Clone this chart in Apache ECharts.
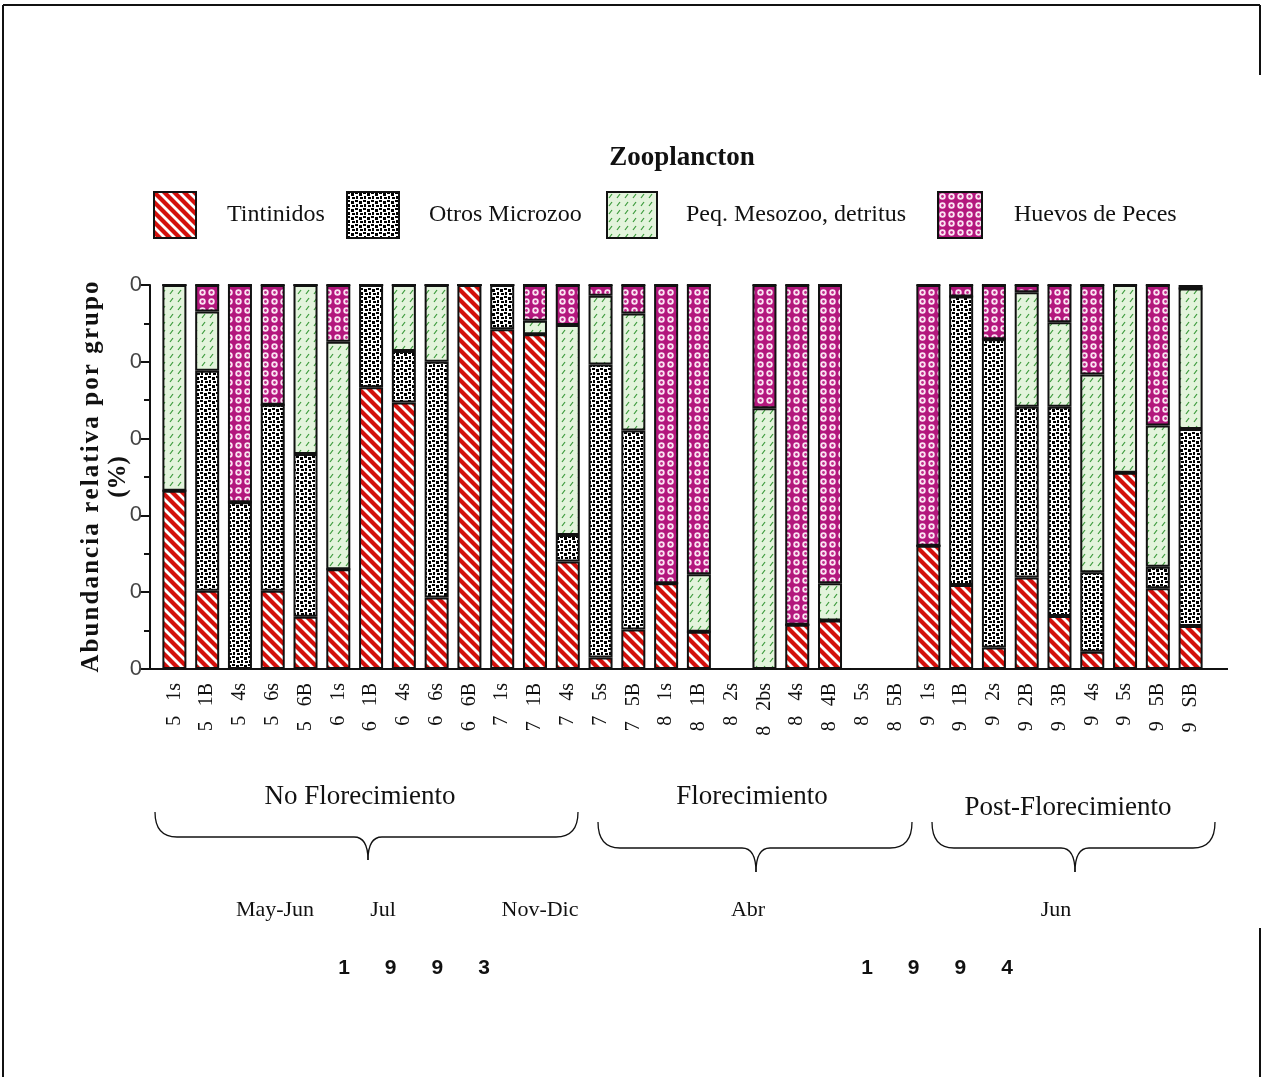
<!DOCTYPE html>
<html>
<head>
<meta charset="utf-8">
<script src="https://cdn.jsdelivr.net/npm/echarts@6/dist/echarts.min.js"></script>
<style>
  html, body { margin: 0; padding: 0; background: #fff; }
  #chart { width: 1269px; height: 1077px; }
</style>
</head>
<body>
<div id="chart"></div>
<script>
  // estaciones / muestras
  var categorias = ['5 1s', '5 1B', '5 4s', '5 6s', '5 6B', '6 1s', '6 1B', '6 4s', '6 6s', '6 6B',
    '7 1s', '7 1B', '7 4s', '7 5s', '7 5B', '8 1s', '8 1B', '8 2s', '8 2bs', '8 4s', '8 4B', '8 5s', '8 5B',
    '9 1s', '9 1B', '9 2s', '9 2B', '9 3B', '9 4s', '9 5s', '9 5B', '9 SB'];

  // % por grupo
  var tintinidos = [46.4, 20.4, 0, 20.4, 13.6, 26.0, 73.4, 69.4, 18.6, 100, 88.5, 87.2, 28.0, 3.0, 10.3, 22.3,
    9.7, 0, 0, 11.5, 12.6, 0, 0, 32.1, 21.9, 5.6, 23.8, 13.8, 4.5, 51.1, 21.0, 11.2];
  var otrosMicrozoo = [0, 57.3, 43.4, 48.4, 42.4, 0, 26.6, 13.4, 61.4, 0, 11.5, 0, 6.9, 76.3, 51.8, 0,
    0, 0, 0, 0, 0, 0, 0, 0, 75.1, 80.3, 44.5, 54.5, 20.7, 0, 5.6, 51.3];
  var mesozoo = [53.6, 15.4, 0, 0, 44.0, 59.2, 0, 17.2, 20.0, 0, 0, 3.5, 54.7, 17.9, 30.5, 0,
    15.0, 0, 67.9, 0, 9.7, 0, 0, 0, 0, 0, 29.8, 22.0, 51.5, 48.9, 36.8, 36.6];
  var huevos = [0, 6.9, 56.6, 31.2, 0, 14.8, 0, 0, 0, 0, 0, 9.3, 10.4, 2.8, 7.4, 77.7,
    75.3, 0, 32.1, 88.5, 77.7, 0, 0, 67.9, 3.0, 14.1, 1.9, 9.7, 23.3, 0, 36.6, 0];
  // franja negra sobre 9 SB
  var otrosTope = [0, 0, 0, 0, 0, 0, 0, 0, 0, 0, 0, 0, 0, 0, 0, 0,
    0, 0, 0, 0, 0, 0, 0, 0, 0, 0, 0, 0, 0, 0, 0, 0.9];

  var yTicks = [0, 20, 40, 60, 80, 100];

  var serif = 'Liberation Serif';

  // patrones de relleno
  function tile(size, draw) {
    var c = document.createElement('canvas');
    c.width = size; c.height = size;
    draw(c.getContext('2d'), size);
    return { image: c, repeat: 'repeat' };
  }
  var rayasRojas = tile(10, function (ctx, s) {
    ctx.fillStyle = '#fff';
    ctx.fillRect(0, 0, s, s);
    ctx.strokeStyle = '#d3100c';
    ctx.lineWidth = 4.2;
    [-s, 0, s].forEach(function (k) {
      ctx.beginPath();
      ctx.moveTo(-2, -2 + k);
      ctx.lineTo(s + 2, s + 2 + k);
      ctx.stroke();
    });
  });
  var puntosNegros = tile(8, function (ctx, s) {
    ctx.fillStyle = '#fff';
    ctx.fillRect(0, 0, s, s);
    ctx.fillStyle = '#000';
    ctx.fillRect(0, 0, 3, 2);
    ctx.fillRect(4, 1, 3, 3);
    ctx.fillRect(1, 4, 2, 3);
    ctx.fillRect(5, 5, 3, 2);
  });
  var verdes = tile(8, function (ctx, s) {
    ctx.fillStyle = '#e3f4dc';
    ctx.fillRect(0, 0, s, s);
    ctx.strokeStyle = '#3c9a3c';
    ctx.lineWidth = 1.2;
    ctx.beginPath();
    ctx.moveTo(2, 6);
    ctx.lineTo(5, 2);
    ctx.stroke();
  });
  var circulosRosa = tile(9, function (ctx, s) {
    ctx.fillStyle = '#b3177d';
    ctx.fillRect(0, 0, s, s);
    ctx.fillStyle = '#fbe3f2';
    ctx.beginPath();
    ctx.arc(4.5, 4.5, 3.2, 0, Math.PI * 2);
    ctx.fill();
    ctx.fillStyle = '#c02a8a';
    ctx.beginPath();
    ctx.arc(4.5, 4.5, 1.4, 0, Math.PI * 2);
    ctx.fill();
  });

  function serie(name, data, fill) {
    return {
      name: name,
      type: 'bar',
      stack: 'total',
      barWidth: 24,
      data: data,
      itemStyle: { color: fill, borderColor: '#111', borderWidth: 2 },
      emphasis: { disabled: true }
    };
  }

  function leyenda(name, left, w, pad) {
    return {
      data: [name],
      left: left,
      top: 186,
      itemWidth: w,
      itemHeight: 46,
      icon: 'rect',
      selectedMode: false,
      textStyle: { fontFamily: serif, fontSize: 24, color: '#111', padding: [0, 0, 0, pad] }
    };
  }

  function texto(x, y, t, size, font, weight) {
    return {
      type: 'text', x: x, y: y,
      style: {
        text: t, fill: '#111', font: (weight || 'normal') + ' ' + size + 'px "' + (font || serif) + '"',
        textAlign: 'center', textVerticalAlign: 'middle'
      }
    };
  }

  function linea(x1, y1, x2, y2, w) {
    return { type: 'line', shape: { x1: x1, y1: y1, x2: x2, y2: y2 }, style: { stroke: '#111', lineWidth: w || 2 } };
  }

  function curva(x1, y1, cx, cy, x2, y2) {
    return {
      type: 'bezierCurve',
      shape: { x1: x1, y1: y1, cpx1: cx, cpy1: cy, x2: x2, y2: y2 },
      style: { stroke: '#111', lineWidth: 1.3, fill: null }
    };
  }

  // llave horizontal bajo cada grupo
  function llave(x0, x1, xm, y0, yh, yt) {
    var r = 22, r2 = 14;
    return {
      type: 'group',
      children: [
        curva(x0, y0, x0, yh, x0 + r, yh),
        linea(x0 + r, yh, xm - r2, yh, 1.3),
        curva(xm - r2, yh, xm, yh, xm, yt),
        curva(xm, yt, xm, yh, xm + r2, yh),
        linea(xm + r2, yh, x1 - r, yh, 1.3),
        curva(x1 - r, yh, x1, yh, x1, y0)
      ]
    };
  }

  // texto espaciado para el nombre del eje y
  function espaciar(t) { return t.split('').join('\u200A'); }

  var chart = echarts.init(document.getElementById('chart'));

  var option = {
    backgroundColor: '#fff',
    animation: false,
    title: {
      text: 'Zooplancton',
      left: 677,
      textAlign: 'center',
      top: 140,
      textStyle: { fontFamily: serif, fontSize: 27, fontWeight: 'bold', color: '#111' }
    },
    legend: [
      leyenda('Tintinidos', 148, 42, 26),
      leyenda('Otros Microzoo', 341, 52, 25),
      leyenda('Peq. Mesozoo, detritus', 601, 50, 24),
      leyenda('Huevos de Peces', 932, 44, 27)
    ],
    grid: { left: 158, right: 62, top: 285, bottom: 408 },
    xAxis: {
      type: 'category',
      data: categorias,
      axisLine: { lineStyle: { color: '#111', width: 2 } },
      axisTick: { alignWithLabel: true, length: 10, lineStyle: { color: '#111', width: 2 } },
      axisLabel: {
        interval: 0,
        rotate: 90,
        margin: 14,
        fontFamily: serif,
        fontSize: 20,
        color: '#111',
        formatter: function (v) { return v.replace(' ', '   '); }
      }
    },
    yAxis: {
      type: 'value',
      min: yTicks[0],
      max: yTicks[yTicks.length - 1],
      interval: 20,
      offset: 8,
      name: espaciar('Abundancia relativa por grupo') + '\n(%)',
      nameLocation: 'middle',
      nameRotate: 90,
      nameGap: 18,
      nameMoveOverlap: false,
      nameTextStyle: { fontFamily: serif, fontSize: 25, fontWeight: 'bold', color: '#111', lineHeight: 27 },
      splitLine: { show: false },
      axisLine: { show: true, lineStyle: { color: '#111', width: 2 } },
      axisTick: { show: true, length: 10, lineStyle: { color: '#111', width: 2 } },
      minorTick: { show: true, splitNumber: 2, length: 6, lineStyle: { color: '#111', width: 2 } },
      axisLabel: {
        margin: 8,
        fontFamily: 'Liberation Sans',
        fontSize: 22,
        color: '#444',
        formatter: function () { return '0'; }
      }
    },
    series: [
      serie('Tintinidos', tintinidos, rayasRojas),
      serie('Otros Microzoo', otrosMicrozoo, puntosNegros),
      serie('Peq. Mesozoo, detritus', mesozoo, verdes),
      serie('Huevos de Peces', huevos, circulosRosa),
      serie('Otros Microzoo', otrosTope, '#111')
    ],
    graphic: [
      // marco
      linea(3, 5, 1260, 5, 2),
      linea(3, 5, 3, 1077, 2),
      linea(1260, 5, 1260, 75, 2),
      linea(1260, 928, 1260, 1077, 2),
      // prolongacion del eje x
      linea(150, 669, 159, 669, 2),
      linea(1206, 669, 1228, 669, 2),
      // grupos
      texto(360, 797, 'No Florecimiento', 27),
      texto(752, 797, 'Florecimiento', 27),
      texto(1068, 808, 'Post-Florecimiento', 27),
      llave(155, 578, 368, 812, 837, 860),
      llave(598, 912, 756, 822, 848, 872),
      llave(932, 1215, 1075, 822, 848, 872),
      // meses
      texto(275, 910, 'May-Jun', 22),
      texto(383, 910, 'Jul', 22),
      texto(540, 910, 'Nov-Dic', 22),
      texto(748, 910, 'Abr', 22),
      texto(1056, 910, 'Jun', 22),
      // años
      texto(414, 968, '1      9      9      3', 21, 'Liberation Sans', 'bold'),
      texto(937, 968, '1      9      9      4', 21, 'Liberation Sans', 'bold')
    ]
  };

  chart.setOption(option);
</script>
</body>
</html>
